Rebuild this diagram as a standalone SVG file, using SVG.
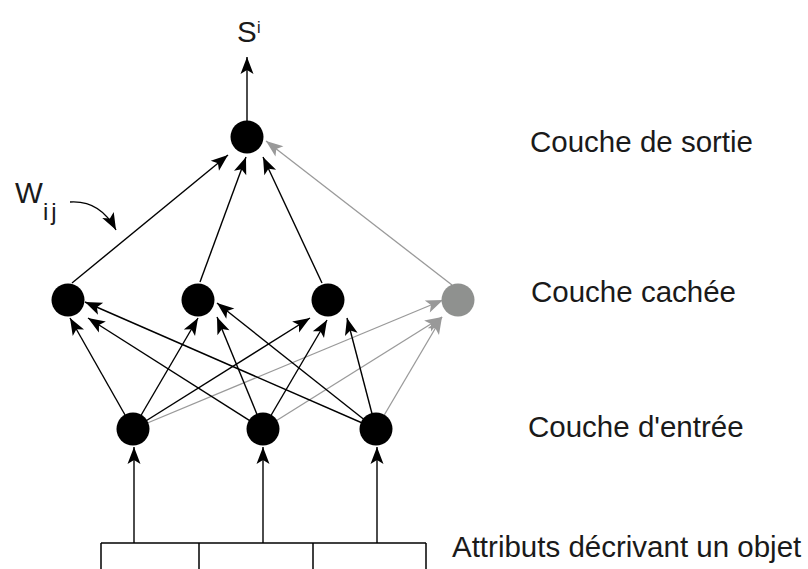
<svg xmlns="http://www.w3.org/2000/svg" width="808" height="569" viewBox="0 0 808 569">
<defs>
<marker id="ab" markerUnits="userSpaceOnUse" markerWidth="18" markerHeight="14" refX="17" refY="6.5" orient="auto" overflow="visible">
<path d="M17,6.5 L0,0 L4,6.5 L0,13 Z" fill="#000"/>
</marker>
<marker id="ag" markerUnits="userSpaceOnUse" markerWidth="18" markerHeight="14" refX="17" refY="6.5" orient="auto" overflow="visible">
<path d="M17,6.5 L0,0 L4,6.5 L0,13 Z" fill="#999"/>
</marker>
<style>
.k{stroke:#000;stroke-width:1.4;fill:none;marker-end:url(#ab)}
.g{stroke:#9a9a9a;stroke-width:1.3;fill:none;marker-end:url(#ag)}
.n{fill:#000}
.ng{fill:#8f918f}
.t{font-family:"Liberation Sans",Arial,sans-serif;font-size:29.5px;fill:#1a1a1a}
.box{stroke:#000;stroke-width:1.5;fill:none}
</style>
</defs>
<rect width="808" height="569" fill="#fff"/>
<g id="connectors">
<line class="k" x1="134" y1="543" x2="134" y2="447"/>
<line class="k" x1="263" y1="543" x2="263" y2="447"/>
<line class="k" x1="377" y1="543" x2="377" y2="447"/>
<line class="g" x1="133" y1="429" x2="443" y2="300"/>
<line class="g" x1="263" y1="429" x2="442" y2="317"/>
<line class="g" x1="376" y1="429" x2="442" y2="317"/>
<line class="k" x1="133" y1="429" x2="70" y2="318"/>
<line class="k" x1="133" y1="429" x2="198" y2="318"/>
<line class="k" x1="133" y1="429" x2="310" y2="318"/>
<line class="k" x1="263" y1="429" x2="88" y2="318"/>
<line class="k" x1="263" y1="429" x2="217" y2="317"/>
<line class="k" x1="263" y1="429" x2="327" y2="320"/>
<line class="k" x1="376" y1="429" x2="85" y2="302"/>
<line class="k" x1="376" y1="429" x2="217" y2="303"/>
<line class="k" x1="376" y1="429" x2="347" y2="318"/>
<line class="k" x1="72" y1="283" x2="228" y2="155"/>
<line class="k" x1="200" y1="282" x2="246" y2="157"/>
<line class="k" x1="322" y1="283" x2="263" y2="157"/>
<line class="g" x1="452" y1="285" x2="266" y2="141"/>
<line class="k" x1="247" y1="125" x2="247" y2="57"/>
<path class="k" d="M70,202 Q100,200 116,230"/>
</g>
<g id="box">
<line class="box" x1="101" y1="543" x2="426" y2="543"/>
<line class="box" x1="101" y1="543" x2="101" y2="570"/>
<line class="box" x1="199" y1="543" x2="199" y2="570"/>
<line class="box" x1="313" y1="543" x2="313" y2="570"/>
<line class="box" x1="426" y1="543" x2="426" y2="570"/>
</g>
<g id="out"><circle class="n" cx="247" cy="137" r="16.5"/></g>
<g id="h1"><circle class="n" cx="68" cy="300" r="16.5"/></g>
<g id="h2"><circle class="n" cx="198" cy="300" r="16.5"/></g>
<g id="h3"><circle class="n" cx="328" cy="300" r="16.5"/></g>
<g id="h4"><circle class="ng" cx="458" cy="300" r="16.5"/></g>
<g id="i1"><circle class="n" cx="133" cy="429" r="16.5"/></g>
<g id="i2"><circle class="n" cx="263" cy="429" r="16.5"/></g>
<g id="i3"><circle class="n" cx="376" cy="429" r="16.5"/></g>
<g id="labels">
<text class="t" x="237" y="42">S</text>
<text class="t" x="257" y="33" style="font-size:16px">i</text>
<text class="t" x="15" y="203">W</text>
<text class="t" x="43" y="220" style="font-size:24px;letter-spacing:3px">ij</text>
<text class="t" x="530" y="152">Couche de sortie</text>
<text class="t" x="531" y="302">Couche cachée</text>
<text class="t" x="528" y="437">Couche d'entrée</text>
<text class="t" x="452" y="557">Attributs décrivant un objet</text>
</g>
</svg>
